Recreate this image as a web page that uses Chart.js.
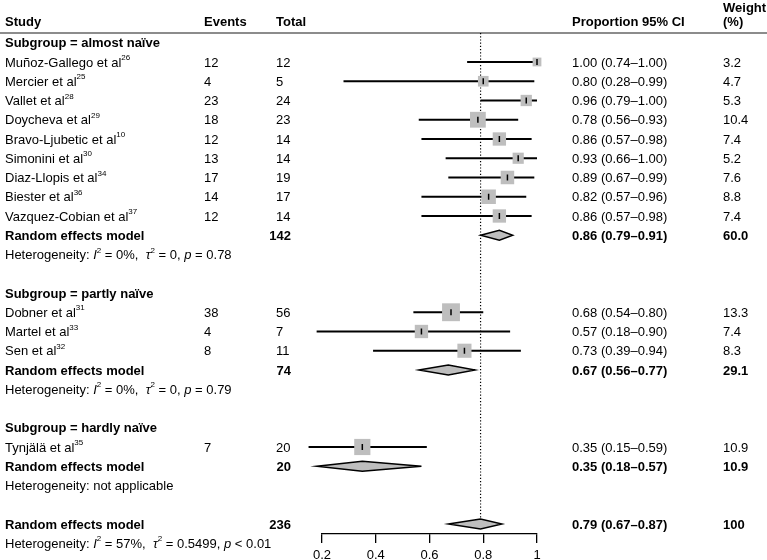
<!DOCTYPE html>
<html>
<head>
<meta charset="utf-8">
<script src="https://cdn.jsdelivr.net/npm/chart.js@4/dist/chart.umd.min.js"></script>
<style>
    html, body { margin: 0; padding: 0; background: #fff; }
    #forest { display: block; }
</style>
</head>
<body>
<canvas id="forest" width="767" height="560"></canvas>
<script>
// study level data
var studyNames = ['Muñoz-Gallego et al', 'Mercier et al', 'Vallet et al', 'Doycheva et al', 'Bravo-Ljubetic et al',
    'Simonini et al', 'Diaz-Llopis et al', 'Biester et al', 'Vazquez-Cobian et al',
    'Dobner et al', 'Martel et al', 'Sen et al', 'Tynjälä et al'];
var studyRefs = ['26', '25', '28', '29', '10', '30', '34', '36', '37', '31', '33', '32', '35'];
var studyGroup = [0, 0, 0, 0, 0, 0, 0, 0, 0, 1, 1, 1, 2];
var studyEvents = [12, 4, 23, 18, 12, 13, 17, 14, 12, 38, 4, 8, 7];
var studyTotal = [12, 5, 24, 23, 14, 14, 19, 17, 14, 56, 7, 11, 20];
var studyEst = [1.00, 0.80, 0.96, 0.78, 0.86, 0.93, 0.89, 0.82, 0.86, 0.68, 0.57, 0.73, 0.35];
var studyLow = [0.74, 0.28, 0.79, 0.56, 0.57, 0.66, 0.67, 0.57, 0.57, 0.54, 0.18, 0.39, 0.15];
var studyUp = [1.00, 0.99, 1.00, 0.93, 0.98, 1.00, 0.99, 0.96, 0.98, 0.80, 0.90, 0.94, 0.59];
var studyWeight = ['3.2', '4.7', '5.3', '10.4', '7.4', '5.2', '7.6', '8.8', '7.4', '13.3', '7.4', '8.3', '10.9'];

// subgroup random effects
var groupNames = ['almost naïve', 'partly naïve', 'hardly naïve'];
var groupTotal = [142, 74, 20];
var groupEst = [0.86, 0.67, 0.35];
var groupLow = [0.79, 0.56, 0.18];
var groupUp = [0.91, 0.77, 0.57];
var groupWeight = ['60.0', '29.1', '10.9'];
var groupI2 = ['0%', '0%', null];
var groupTau2 = ['0', '0', null];
var groupP = ['= 0.78', '= 0.79', null];

// overall random effects
var overallTotal = 236;
var overallEst = 0.79;
var overallLow = 0.67;
var overallUp = 0.87;
var overallWeight = '100';
var overallI2 = '57%';
var overallTau2 = '0.5499';
var overallP = '< 0.01';

var xTicks = [0.2, 0.4, 0.6, 0.8, 1];
var xTickLabels = ['0.2', '0.4', '0.6', '0.8', '1'];

var FONT = '"Liberation Sans", Arial, Helvetica, sans-serif';

// row layout: build row index for every line of the table
var rows = [];
(function () {
    var r = 0;
    for (var g = 0; g < groupNames.length; g++) {
        rows.push({ kind: 'group', g: g, row: r++ });
        for (var i = 0; i < studyNames.length; i++) {
            if (studyGroup[i] == g) rows.push({ kind: 'study', i: i, row: r++ });
        }
        rows.push({ kind: 're', g: g, row: r++ });
        rows.push({ kind: 'het', g: g, row: r++ });
        r++; // blank line
    }
    rows.push({ kind: 'overall', row: r++ });
    rows.push({ kind: 'overallHet', row: r++ });
})();

var boxPoints = [];
var boxWeights = [];
for (var k = 0; k < rows.length; k++) {
    if (rows[k].kind == 'study') {
        boxPoints.push({ x: studyEst[rows[k].i], y: rows[k].row });
        boxWeights.push(parseFloat(studyWeight[rows[k].i]));
    }
}

function drawSegments(ctx, x, y, segs) {
    for (var s of segs) {
        var txt = s[0], st = s[1];
        var yy = y;
        if (st == 'b') ctx.font = 'bold 13px ' + FONT;
        else if (st == 'i') ctx.font = 'italic 13px ' + FONT;
        else if (st == 's') { ctx.font = '8px ' + FONT; yy = y - 5; }
        else ctx.font = '13px ' + FONT;
        ctx.fillText(txt, x, yy);
        x += ctx.measureText(txt).width;
    }
}

function hetSegments(i2, tau2, p) {
    if (i2 == null) return [['Heterogeneity: not applicable', 'n']];
    return [['Heterogeneity: ', 'n'], ['I', 'i'], ['2', 's'], [' = ' + i2 + ',  ', 'n'],
        ['τ', 'i'], ['2', 's'], [' = ' + tau2 + ', ', 'n'], ['p', 'i'], [' ' + p, 'n']];
}

function fmtCI(e, l, u) {
    return e.toFixed(2) + ' (' + l.toFixed(2) + '–' + u.toFixed(2) + ')';
}

function boxRadius(c) {
    return 4.9 * Math.sqrt(boxWeights[c.dataIndex]) / Math.SQRT2;
}

const forestPlugin = {
    id: 'forestPlugin',
    beforeDatasetsDraw: function (chart) {
        const ctx = chart.ctx;
        const xs = chart.scales.x, ys = chart.scales.y;
        ctx.save();
        // header rule
        ctx.strokeStyle = '#8c8c8c';
        ctx.lineWidth = 2;
        ctx.beginPath();
        ctx.moveTo(0, chart.chartArea.top);
        ctx.lineTo(chart.width, chart.chartArea.top);
        ctx.stroke();

        // reference line at overall estimate
        var lastRow = rows[rows.length - 2].row;
        ctx.strokeStyle = '#000';
        ctx.lineWidth = 1.2;
        ctx.setLineDash([1.2, 2]);
        ctx.beginPath();
        ctx.moveTo(xs.getPixelForValue(overallEst), chart.chartArea.top);
        ctx.lineTo(xs.getPixelForValue(overallEst), ys.getPixelForValue(lastRow - 0.27));
        ctx.stroke();
        ctx.setLineDash([]);

        // confidence intervals
        ctx.lineWidth = 1.8;
        for (var r of rows) {
            if (r.kind != 'study') continue;
            var y = ys.getPixelForValue(r.row);
            ctx.beginPath();
            ctx.moveTo(xs.getPixelForValue(studyLow[r.i]), y);
            ctx.lineTo(xs.getPixelForValue(studyUp[r.i]), y);
            ctx.stroke();
        }
        ctx.restore();
    },
    afterDatasetsDraw: function (chart) {
        const ctx = chart.ctx;
        const xs = chart.scales.x, ys = chart.scales.y;
        ctx.save();
        // point estimate ticks
        ctx.strokeStyle = '#000';
        ctx.lineWidth = 1.5;
        for (var r of rows) {
            if (r.kind != 'study') continue;
            var y = ys.getPixelForValue(r.row);
            var x = xs.getPixelForValue(studyEst[r.i]);
            ctx.beginPath();
            ctx.moveTo(x, y - 3);
            ctx.lineTo(x, y + 3);
            ctx.stroke();
        }

        // diamonds
        function diamond(est, lo, up, row) {
            var y = ys.getPixelForValue(row);
            var h = 5;
            ctx.beginPath();
            ctx.moveTo(xs.getPixelForValue(lo), y);
            ctx.lineTo(xs.getPixelForValue(est), y - h);
            ctx.lineTo(xs.getPixelForValue(up), y);
            ctx.lineTo(xs.getPixelForValue(est), y + h);
            ctx.closePath();
            ctx.fillStyle = '#bebebe';
            ctx.fill();
            ctx.lineWidth = 1.4;
            ctx.strokeStyle = '#000';
            ctx.stroke();
        }
        for (var r of rows) {
            if (r.kind == 're') diamond(groupEst[r.g], groupLow[r.g], groupUp[r.g], r.row);
            if (r.kind == 'overall') diamond(overallEst, overallLow, overallUp, r.row);
        }

        // table text (baseline middle sits ~1px high, so nudge down)
        ctx.fillStyle = '#000';
        ctx.textBaseline = 'middle';
        var colStudy = 5, colEvents = 204, colTotal = 276, colTotalR = 291, colCI = 572, colW = 723;

        var hy = ys.getPixelForValue(-1.13) + 1;
        ctx.font = 'bold 13px ' + FONT;
        ctx.fillText('Study', colStudy, hy);
        ctx.fillText('Events', colEvents, hy);
        ctx.fillText('Total', colTotal, hy);
        ctx.fillText('Proportion 95% CI', colCI, hy);
        ctx.fillText('Weight', colW, ys.getPixelForValue(-1.81) + 1);
        ctx.fillText('(%)', colW, hy);

        for (var r of rows) {
            var y = ys.getPixelForValue(r.row) + 1;
            if (r.kind == 'group') {
                drawSegments(ctx, colStudy, y, [['Subgroup = ' + groupNames[r.g], 'b']]);
            } else if (r.kind == 'study') {
                drawSegments(ctx, colStudy, y, [[studyNames[r.i], 'n'], [studyRefs[r.i], 's']]);
                ctx.font = '13px ' + FONT;
                ctx.fillText(String(studyEvents[r.i]), colEvents, y);
                ctx.fillText(String(studyTotal[r.i]), colTotal, y);
                ctx.fillText(fmtCI(studyEst[r.i], studyLow[r.i], studyUp[r.i]), colCI, y);
                ctx.fillText(studyWeight[r.i], colW, y);
            } else if (r.kind == 're' || r.kind == 'overall') {
                var isG = r.kind == 're';
                ctx.font = 'bold 13px ' + FONT;
                ctx.fillText('Random effects model', colStudy, y);
                ctx.textAlign = 'right';
                ctx.fillText(String(isG ? groupTotal[r.g] : overallTotal), colTotalR, y);
                ctx.textAlign = 'left';
                ctx.fillText(isG ? fmtCI(groupEst[r.g], groupLow[r.g], groupUp[r.g]) : fmtCI(overallEst, overallLow, overallUp), colCI, y);
                ctx.fillText(isG ? groupWeight[r.g] : overallWeight, colW, y);
            } else if (r.kind == 'het') {
                drawSegments(ctx, colStudy, y, hetSegments(groupI2[r.g], groupTau2[r.g], groupP[r.g]));
            } else if (r.kind == 'overallHet') {
                drawSegments(ctx, colStudy, y, hetSegments(overallI2, overallTau2, overallP));
            }
        }
        ctx.restore();
    }
};

var ctxForest = document.getElementById('forest').getContext('2d');
var forestChart = new Chart(ctxForest, {
    type: 'scatter',
    data: {
        datasets: [{
            label: 'Studies',
            data: boxPoints,
            pointStyle: 'rect',
            pointRadius: boxRadius,
            pointHoverRadius: boxRadius,
            backgroundColor: '#bebebe',
            borderWidth: 0,
            clip: false
        }]
    },
    plugins: [forestPlugin],
    options: {
        responsive: false,
        animation: false,
        devicePixelRatio: 1,
        layout: { padding: { left: 322, right: 230, top: 33, bottom: 0 } },
        plugins: {
            legend: { display: false },
            tooltip: { enabled: false }
        },
        scales: {
            x: {
                type: 'linear',
                min: 0.2,
                max: 1,
                border: { display: true, color: '#000', width: 1.3 },
                grid: { drawOnChartArea: false, drawTicks: true, tickLength: 9, color: '#000', lineWidth: 1.3 },
                ticks: {
                    color: '#000',
                    padding: 5,
                    font: { family: FONT, size: 13 },
                    callback: function (v, i) { return xTickLabels[i]; }
                },
                afterBuildTicks: function (axis) {
                    axis.ticks = xTicks.map(function (v) { return { value: v }; });
                },
                afterFit: function (axis) {
                    // keep axis line where the reference has it
                    axis.height = 26;
                }
            },
            y: {
                type: 'linear',
                display: false,
                reverse: true,
                min: -0.506,
                max: 25.52
            }
        }
    }
});
</script>
</body>
</html>
